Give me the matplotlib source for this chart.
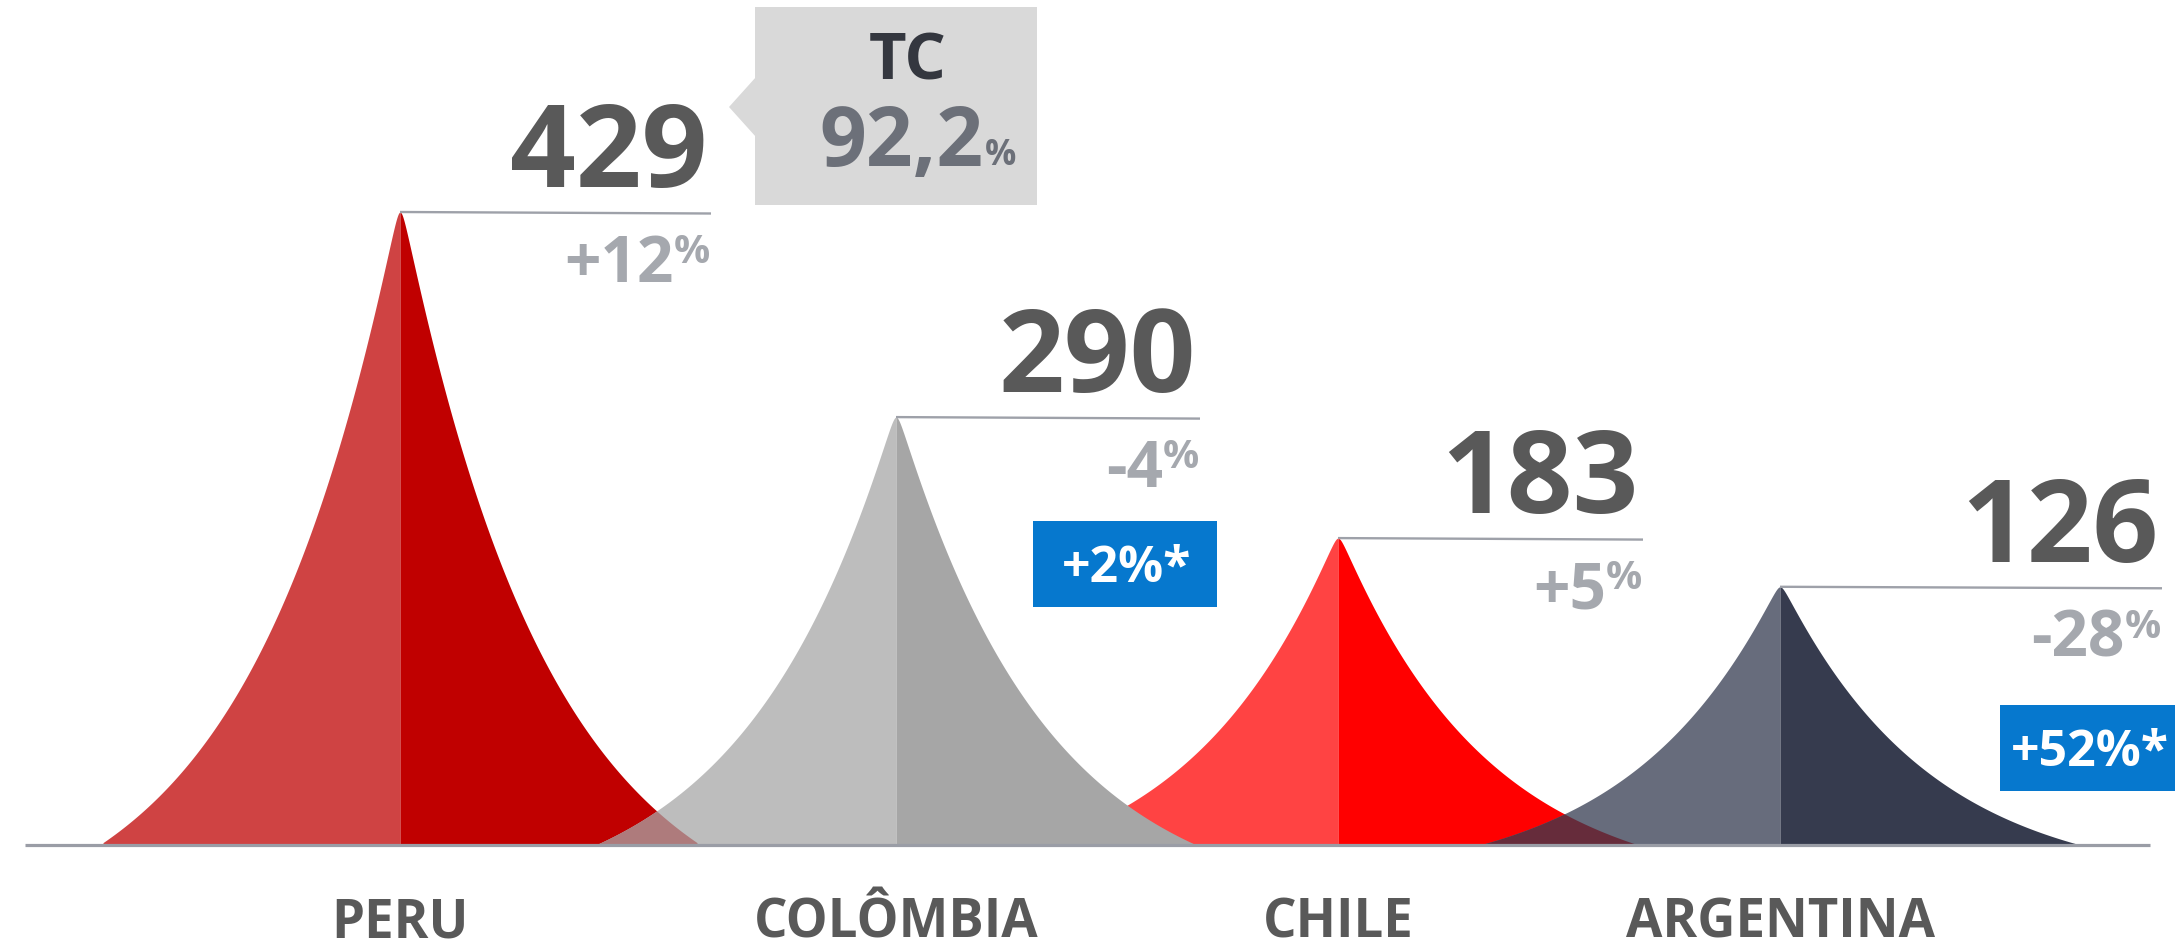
import numpy as np
import matplotlib
matplotlib.use("Agg")
import matplotlib.pyplot as plt
from matplotlib.patches import Rectangle, Polygon
from matplotlib.transforms import Affine2D

# ---------------- data ----------------
countries = ["PERU", "COLÔMBIA", "CHILE", "ARGENTINA"]
values = [429, 290, 183, 126]
# drawn mountain heights, in value units of the chart's vertical scale
peak_height = [429, 290, 208, 175]
yoy_change = ["+12", "-4", "+5", "-28"]
local_change = [None, "+2%*", None, "+52%*"]
tc_label = "TC"
tc_value = "92,2"

# ---------------- styles / layout ----------------
left_colors = ["#CF4343", "#BDBDBD", "#FF4343", "#676C7C"]
right_colors = ["#C00000", "#A6A6A6", "#FF0000", "#363B4E"]
overlap_pc_color = "#AE7B7C"   # Peru / Colombia overlap
overlap_ca_color = "#662C3B"   # Chile / Argentina overlap
num_color = "#595959"
pct_color = "#A5A8AE"
line_color = "#9EA1A9"
blue = "#0678CE"
FONT = "Open Sans"

W, H = 2175, 949
BASE_PX = 845            # baseline, px from top
PX_PER_UNIT = 633 / 429  # vertical scale
centers = [400, 896, 1338, 1780]   # x of each peak (px)
half_w = 297
line_end = [711, 1200, 1643, 2162]

fig = plt.figure(figsize=(W / 100, H / 100), dpi=100)
ax = fig.add_axes([0, 0, 1, 1])
ax.set_xlim(0, W)
ax.set_ylim(-(H - BASE_PX) / PX_PER_UNIT, BASE_PX / PX_PER_UNIT)
ax.axis("off")

# pixel transform (origin top-left)
PX = Affine2D().scale(1 / W, -1 / H).translate(0, 1) + fig.transFigure

K = 2.0
EPS = 0.012  # rounding of the tip


def shape(d):
    de = np.sqrt(d ** 2 + EPS ** 2) - EPS
    return (np.exp(K * (1 - de)) - 1) / (np.exp(K) - 1)


def profile(x, c, h):
    d = np.clip(np.abs(x - c) / half_w, 0, 1)
    return h * shape(d) / shape(0.0)


def draw_mountain(i, z):
    c, h = centers[i], peak_height[i]
    xl = np.linspace(c - half_w, c, 500)
    xr = np.linspace(c, c + half_w, 500)
    ax.fill_between(xl, 0, profile(xl, c, h), color=left_colors[i], lw=0, zorder=z)
    ax.fill_between(xr, 0, profile(xr, c, h), color=right_colors[i], lw=0, zorder=z)


for i, z in zip([2, 0, 1, 3], [2, 3, 4, 5]):
    draw_mountain(i, z)


def draw_overlap(a, b, color):
    xs = np.linspace(centers[b] - half_w, centers[a] + half_w, 300)
    ya = profile(xs, centers[a], peak_height[a])
    yb = profile(xs, centers[b], peak_height[b])
    ax.fill_between(xs, 0, np.minimum(ya, yb), color=color, lw=0, zorder=6)


draw_overlap(0, 1, overlap_pc_color)
draw_overlap(2, 3, overlap_ca_color)

# baseline
ax.plot([25, 2150], [0, 0], color="#9A9DA6", lw=2.3, zorder=7, solid_capstyle="butt")

fig.canvas.draw()
r = fig.canvas.get_renderer()

for i in range(4):
    c, h = centers[i], peak_height[i]
    # peak line
    ax.plot([c, line_end[i]], [h, h - 1.5 / PX_PER_UNIT], color=line_color, lw=1.7,
            zorder=8, solid_capstyle="butt")
    # big value
    ax.annotate(str(values[i]), xy=(line_end[i], h), xytext=(-4, 25),
                textcoords="offset pixels", ha="right", va="baseline",
                fontsize=83, fontweight="bold", color=num_color, family=FONT, zorder=9)
    # percent change (superscript %)
    tp = ax.annotate("%", xy=(line_end[i], h), xytext=(-1, -21),
                     textcoords="offset pixels", ha="right", va="top",
                     fontsize=29, fontweight="bold", color=pct_color, family=FONT, zorder=9)
    wpct = tp.get_window_extent(r).width
    ax.annotate(yoy_change[i], xy=(line_end[i], h), xytext=(-1 - wpct, -70),
                textcoords="offset pixels", ha="right", va="baseline",
                fontsize=46, fontweight="bold", color=pct_color, family=FONT, zorder=9)
    # country label
    ax.annotate(countries[i], xy=(c, 0), xytext=(0, -93), textcoords="offset pixels",
                ha="center", va="baseline", fontsize=38, fontweight="bold",
                color=num_color, family=FONT, zorder=9)

# TC callout box
box = Rectangle((755, 7), 282, 198, transform=PX, facecolor="#D9D9D9", lw=0, zorder=1)
fig.add_artist(box)
tri = Polygon([(756, 77), (729, 107), (756, 137)], closed=True, transform=PX,
              facecolor="#D9D9D9", lw=0, zorder=1)
fig.add_artist(tri)
fig.text(908, 80, tc_label, transform=PX, ha="center", va="baseline", fontsize=47,
         fontweight="bold", color="#34373F", family=FONT)
fig.text(983, 166, tc_value, transform=PX, ha="right", va="baseline", fontsize=59,
         fontweight="bold", color="#6C7079", family=FONT)
fig.text(985, 165, "%", transform=PX, ha="left", va="baseline", fontsize=25,
         fontweight="bold", color="#6C7079", family=FONT)

# blue local-currency boxes
blue_boxes = {1: (1033, 521, 184, 86), 3: (2000, 705, 175, 86)}
for i, (bx, by, bw, bh) in blue_boxes.items():
    fig.add_artist(Rectangle((bx, by), bw, bh, transform=PX, facecolor=blue, lw=0, zorder=10))
    fig.text(bx + bw / 2 + 2, by + bh / 2 + 18, local_change[i], transform=PX, ha="center",
             va="baseline", fontsize=36, fontweight="bold", color="white",
             family=FONT, zorder=11)

fig.savefig("out.png", dpi=100, facecolor="white")
